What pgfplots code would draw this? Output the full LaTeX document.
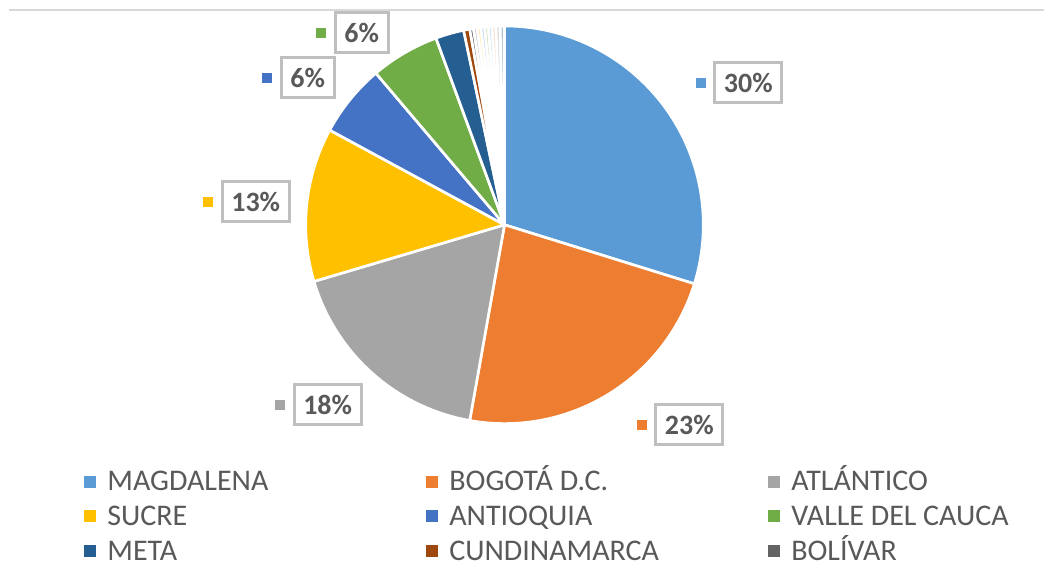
\documentclass[border=0pt]{standalone}
\usepackage{pgfplots}
\pgfplotsset{compat=1.18}
\usepackage{pgfplotstable}
\usepackage{fontspec}
\setmainfont{Carlito}

\definecolor{cMag}{HTML}{5B9BD5}
\definecolor{cBog}{HTML}{ED7D31}
\definecolor{cAtl}{HTML}{A5A5A5}
\definecolor{cSuc}{HTML}{FFC000}
\definecolor{cAnt}{HTML}{4472C4}
\definecolor{cVal}{HTML}{70AD47}
\definecolor{cMeta}{HTML}{255E91}
\definecolor{cCund}{HTML}{9E480E}
\definecolor{cBol}{HTML}{636363}
\colorlet{cX1}{cBol!35!white}
\colorlet{cX2}{cSuc!35!white}
\colorlet{cX3}{cAnt!35!white}
\colorlet{cX4}{cVal!35!white}
\colorlet{cX5}{cMag!35!white}
\colorlet{cX6}{cBog!35!white}
\colorlet{cX7}{cAtl!35!white}
\colorlet{cX8}{cMeta!35!white}
\definecolor{cText}{HTML}{595959}
\definecolor{cBox}{HTML}{BFBFBF}
\definecolor{cLine}{HTML}{D9D9D9}

% share of each department (%), clockwise from 12 o'clock
\pgfplotstableread[col sep=comma]{
name,value,color
MAGDALENA,29.8,cMag
BOGOTA,23.0,cBog
ATLANTICO,17.6,cAtl
SUCRE,12.5,cSuc
ANTIOQUIA,5.9,cAnt
VALLE,5.6,cVal
META,2.3,cMeta
CUNDINAMARCA,0.5,cCund
BOLIVAR,0.3,cBol
X1,0.3,cX1
X2,0.3,cX2
X3,0.3,cX3
X4,0.3,cX4
X5,0.3,cX5
X6,0.3,cX6
X7,0.35,cX7
X8,0.35,cX8
}\piedata

\tikzset{
  lbl/.style={draw=cBox, line width=2.25pt, fill=white, text=cText,
    font=\bfseries\fontsize{21}{25}\selectfont, inner xsep=6.8pt,
    inner ysep=0pt, minimum height=30pt},
}

\begin{document}
\begin{tikzpicture}
\begin{axis}[
  hide axis, x=0.75pt, y=0.75pt,
  xmin=0, xmax=1045, ymin=0, ymax=582, clip=false,
  legend columns=3, legend cell align=left,
  legend image code/.code={\fill[#1,draw=none] (0pt,-4.5pt) rectangle (9pt,4.5pt); \path (17.25pt,0pt);},
  legend style={draw=none, fill=none, inner sep=0pt, text=cText,
    font=\fontsize{22.5}{27}\selectfont,
    nodes={inner sep=0pt, text height=19pt, text depth=5pt},
    row sep=2pt, at={(axis cs:84,116.3)}, anchor=north west},
]
\path (axis cs:0,0) rectangle (axis cs:1045,582);
\draw[cLine, line width=1.5pt] (axis cs:9,571.5) -- (axis cs:1045,571.5);

\pgfplotsextra{
  \pgfplotstablegetrowsof{\piedata}
  \pgfmathtruncatemacro\lastrow{\pgfplotsretval-1}
  \gdef\angstart{90}
  \foreach \i in {0,...,\lastrow}{
    \pgfplotstablegetelem{\i}{value}\of\piedata
    \pgfmathsetmacro\angend{\angstart-3.6*\pgfplotsretval}
    \pgfplotstablegetelem{\i}{color}\of\piedata
    \edef\slicecol{\pgfplotsretval}
    \filldraw[fill=\slicecol, draw=white, line width=2pt, line join=round]
      (axis cs:505,357) -- ++(\angstart:149.25pt)
      arc[start angle=\angstart, end angle=\angend, radius=149.25pt] -- cycle;
    \global\let\angstart\angend
  }
  % data labels with their colour keys
  \foreach \lx/\ly/\txt/\col in {749/499/30/cMag, 690/157/23/cBog,
      328/177/18/cAtl, 256/380/13/cSuc, 308/504/6/cAnt, 362/549/6/cVal}{
    \node[lbl] (L) at (axis cs:\lx,\ly) {\txt\%};
    \fill[\col] ([xshift=-9.4pt]L.west) +(-3.75pt,-3.75pt) rectangle +(3.75pt,3.75pt);
  }
}

\addlegendimage{fill=cMag}
\addlegendentry{\makebox[239.25pt][l]{MAGDALENA}}
\addlegendimage{fill=cBog}
\addlegendentry{\makebox[239.25pt][l]{BOGOTÁ D.C.}}
\addlegendimage{fill=cAtl}
\addlegendentry{ATLÁNTICO}
\addlegendimage{fill=cSuc}
\addlegendentry{\makebox[239.25pt][l]{SUCRE}}
\addlegendimage{fill=cAnt}
\addlegendentry{\makebox[239.25pt][l]{ANTIOQUIA}}
\addlegendimage{fill=cVal}
\addlegendentry{VALLE DEL CAUCA}
\addlegendimage{fill=cMeta}
\addlegendentry{\makebox[239.25pt][l]{META}}
\addlegendimage{fill=cCund}
\addlegendentry{\makebox[239.25pt][l]{CUNDINAMARCA}}
\addlegendimage{fill=cBol}
\addlegendentry{BOLÍVAR}
\end{axis}
\end{tikzpicture}
\end{document}
